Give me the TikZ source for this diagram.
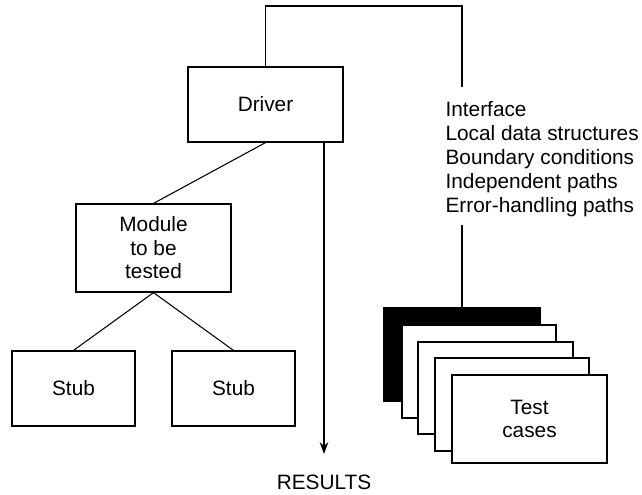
\documentclass[tikz,border=0pt]{standalone}
\usepackage{fontspec}
\setmainfont{Liberation Sans}
\usetikzlibrary{arrows.meta}
\begin{document}
\begin{tikzpicture}[x=0.75pt,y=-0.75pt,
  line width=0.9pt,
  txt/.style={font=\fontsize{15.6}{17.6}\selectfont},
  box/.style={draw, fill=white, txt, align=center, inner sep=0pt},
  card/.style={draw, fill=white, inner sep=0pt},
  conn/.style={line width=0.8pt}]
\useasboundingbox (0,0) rectangle (642,494);
% main boxes
\node[box, minimum width=155*0.75pt, minimum height=75*0.75pt] (driver) at (265.5,104.5) {Driver};
\node[box, minimum width=155*0.75pt, minimum height=88*0.75pt] (module) at (153.5,248) {Module\\to be\\tested};
\node[box, minimum width=123*0.75pt, minimum height=75*0.75pt] (stubA) at (73.5,388.5) {Stub};
\node[box, minimum width=123*0.75pt, minimum height=75*0.75pt] (stubB) at (233.5,388.5) {Stub};
% test case cards
\node[card, fill=black, minimum width=156*0.75pt, minimum height=93*0.75pt] (cardA) at (462,354.5) {};
\node[card, minimum width=154*0.75pt, minimum height=93*0.75pt] (cardB) at (479,371.5) {};
\node[card, minimum width=155*0.75pt, minimum height=92*0.75pt] (cardC) at (495.5,388) {};
\node[card, minimum width=154*0.75pt, minimum height=93*0.75pt] (cardD) at (512,404.5) {};
\node[card, txt, align=center, minimum width=155*0.75pt, minimum height=88*0.75pt] (cardE) at (529.5,419) {Test\\cases};
% list of items
\node[txt, align=left, anchor=west, inner sep=0pt, font=\fontsize{15.6}{18}\selectfont] (items) at (445,159)
  {Interface\\Local data structures\\Boundary conditions\\Independent paths\\Error-handling paths};
% results
\node[txt, inner sep=0pt] (results) at (324,482) {RESULTS};
% connectors
\coordinate (topR) at (462,6);
\coordinate (itemsTop) at (462,87);
\coordinate (itemsBot) at (462,225);
\draw[conn] (driver.north) |- (topR) -- (itemsTop);
\draw[conn] (itemsBot) -- (cardA.north);
\draw[conn] (driver.south) -- (module.north);
\draw[conn] (module.south) -- (stubA.north);
\draw[conn] (module.south) -- (stubB.north);
\draw[conn, -{Stealth[length=9pt,width=6.5pt]}, shorten >=15pt] (results |- driver.south) -- (results.north);
\end{tikzpicture}
\end{document}
